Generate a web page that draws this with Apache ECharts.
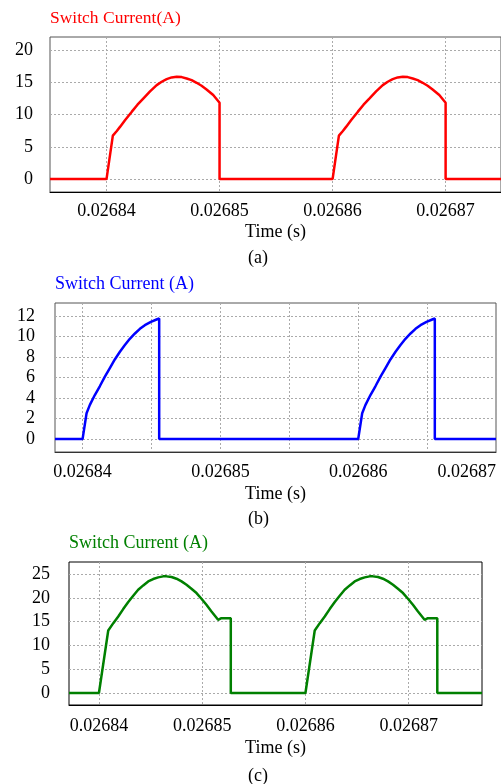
<!DOCTYPE html>
<html>
<head>
<meta charset="utf-8">
<script src="https://cdn.jsdelivr.net/npm/echarts@6/dist/echarts.min.js"></script>
<style>
  html, body { margin: 0; padding: 0; background: #fff; }
  #chart { width: 501px; height: 784px; }
</style>
</head>
<body>
<div id="chart"></div>
<script>
// (a) red waveform
const timeA = [0.0268350,
  0.0268400, 0.02684056, 0.02684091, 0.02684121, 0.02684165, 0.02684224, 0.02684274, 0.02684327,
  0.02684385, 0.02684444, 0.02684488, 0.02684532, 0.02684576, 0.02684621, 0.02684665, 0.02684709,
  0.02684753, 0.02684797, 0.02684841, 0.02684885, 0.02684944, 0.0268500, 0.0268500,
  0.0268600, 0.02686056, 0.02686091, 0.02686121, 0.02686165, 0.02686224, 0.02686274, 0.02686327,
  0.02686385, 0.02686444, 0.02686488, 0.02686532, 0.02686576, 0.02686621, 0.02686665, 0.02686709,
  0.02686753, 0.02686797, 0.02686841, 0.02686885, 0.02686944, 0.0268700, 0.0268700,
  0.0268749];
const currentA = [0,
  0, 6.73, 7.45, 8.12, 9.15, 10.44, 11.52, 12.5,
  13.58, 14.55, 15.07, 15.48, 15.74, 15.84, 15.79, 15.58,
  15.32, 14.91, 14.45, 13.88, 13.01, 11.83, 0,
  0, 6.73, 7.45, 8.12, 9.15, 10.44, 11.52, 12.5,
  13.58, 14.55, 15.07, 15.48, 15.74, 15.84, 15.79, 15.58,
  15.32, 14.91, 14.45, 13.88, 13.01, 11.83, 0,
  0];

// (b) blue waveform
const timeB = [0.0268380,
  0.0268400, 0.02684029, 0.02684053, 0.02684089, 0.02684126, 0.02684162, 0.02684198, 0.02684234,
  0.02684271, 0.02684307, 0.02684343, 0.02684380, 0.02684416, 0.02684452, 0.02684496, 0.02684537,
  0.02684556, 0.02684556,
  0.0268600, 0.02686029, 0.02686053, 0.02686089, 0.02686126, 0.02686162, 0.02686198, 0.02686234,
  0.02686271, 0.02686307, 0.02686343, 0.02686380, 0.02686416, 0.02686452, 0.02686496, 0.02686537,
  0.02686556, 0.02686556,
  0.0268700];
const currentB = [0,
  0, 2.52, 3.33, 4.29, 5.17, 6.08, 6.92, 7.76,
  8.51, 9.16, 9.77, 10.29, 10.74, 11.1, 11.42, 11.65,
  11.75, 0,
  0, 2.52, 3.33, 4.29, 5.17, 6.08, 6.92, 7.76,
  8.51, 9.16, 9.77, 10.29, 10.74, 11.1, 11.42, 11.65,
  11.75, 0,
  0];

// (c) green waveform
const timeC = [0.0268371,
  0.0268400, 0.02684090, 0.02684139, 0.02684187, 0.02684235, 0.02684284, 0.02684332, 0.02684380,
  0.02684429, 0.02684477, 0.02684525, 0.02684574, 0.02684622, 0.02684654, 0.02684703, 0.02684751,
  0.02684800, 0.02684848, 0.02684896, 0.02684945, 0.02684993, 0.02685041, 0.02685090, 0.02685154,
  0.02685186, 0.02685277, 0.02685277,
  0.0268600, 0.02686090, 0.02686139, 0.02686187, 0.02686235, 0.02686284, 0.02686332, 0.02686380,
  0.02686429, 0.02686477, 0.02686525, 0.02686574, 0.02686622, 0.02686654, 0.02686703, 0.02686751,
  0.02686800, 0.02686848, 0.02686896, 0.02686945, 0.02686993, 0.02687041, 0.02687090, 0.02687154,
  0.02687186, 0.02687277, 0.02687277,
  0.0268771];
const currentC = [0,
  0, 13.13, 14.68, 16.08, 17.63, 19.1, 20.43, 21.7,
  22.61, 23.45, 23.95, 24.3, 24.51, 24.51, 24.37, 24.02,
  23.45, 22.75, 21.91, 21.0, 19.8, 18.54, 17.13, 15.38,
  15.73, 15.73, 0,
  0, 13.13, 14.68, 16.08, 17.63, 19.1, 20.43, 21.7,
  22.61, 23.45, 23.95, 24.3, 24.51, 24.51, 24.37, 24.02,
  23.45, 22.75, 21.91, 21.0, 19.8, 18.54, 17.13, 15.38,
  15.73, 15.73, 0,
  0];

const timeTicks = [0.02684, 0.02685, 0.02686, 0.02687];
const timeTicksB = [0.02684, 0.026845, 0.02685, 0.026855, 0.02686, 0.026865, 0.02687];
const yTicksA = [0, 5, 10, 15, 20];
const yTicksB = [0, 2, 4, 6, 8, 10, 12];
const yTicksC = [0, 5, 10, 15, 20, 25];

const font = "'Liberation Serif', 'Times New Roman', serif";

function zip(xs, ys) {
  return xs.map((x, i) => [x, ys[i]]);
}

function xAxisFor(idx, min, max, ticks, margin, gap, lineColor, alignLast) {
  const ax = {
    type: "value",
    gridIndex: idx,
    min: min,
    max: max,
    name: "Time (s)",
    nameLocation: "middle",
    nameGap: gap,
    nameTextStyle: { fontFamily: font, fontSize: 18, color: "#000" },
    axisLine: { show: true, onZero: false, lineStyle: { color: lineColor, width: 1 } },
    axisTick: { show: false, customValues: ticks },
    axisLabel: {
      customValues: timeTicks,
      formatter: (v) => v.toFixed(5),
      fontFamily: font,
      fontSize: 18,
      color: "#000",
      margin: margin,
    },
    splitLine: {
      show: true,
      lineStyle: { color: "#aaa", type: [2, 2], width: 1 },
    },
  };
  if (alignLast) ax.axisLabel.alignMaxLabel = "right";
  return ax;
}

function yAxisFor(idx, min, max, ticks, margin) {
  return {
    type: "value",
    gridIndex: idx,
    min: min,
    max: max,
    axisLine: { show: false },
    axisTick: { show: false, customValues: ticks },
    axisLabel: {
      customValues: ticks,
      fontFamily: font,
      fontSize: 18,
      color: "#000",
      margin: margin,
    },
    splitLine: {
      show: true,
      lineStyle: { color: "#aaa", type: [2, 2], width: 1 },
    },
  };
}

const chart = echarts.init(document.getElementById("chart"));
chart.setOption({
  animation: false,
  backgroundColor: "#fff",
  title: [
    { text: "Switch Current(A)", left: 50, top: 9, padding: 0,
      textStyle: { fontFamily: font, fontSize: 17.5, fontWeight: "normal", color: "#ff0000" } },
    { text: "(a)", left: 248, top: 249, padding: 0,
      textStyle: { fontFamily: font, fontSize: 18, fontWeight: "normal", color: "#000" } },
    { text: "Switch Current (A)", left: 55, top: 275, padding: 0,
      textStyle: { fontFamily: font, fontSize: 18, fontWeight: "normal", color: "#0000ff" } },
    { text: "(b)", left: 248, top: 510, padding: 0,
      textStyle: { fontFamily: font, fontSize: 18, fontWeight: "normal", color: "#000" } },
    { text: "Switch Current (A)", left: 69, top: 534, padding: 0,
      textStyle: { fontFamily: font, fontSize: 18, fontWeight: "normal", color: "#008000" } },
    { text: "(c)", left: 248, top: 767, padding: 0,
      textStyle: { fontFamily: font, fontSize: 18, fontWeight: "normal", color: "#000" } },
  ],
  grid: [
    { left: 50, top: 37, width: 452, height: 155, show: true, borderColor: "#555", borderWidth: 1 },
    { left: 55, top: 303, width: 441, height: 149, show: true, borderColor: "#555", borderWidth: 1 },
    { left: 69, top: 562, width: 413, height: 143, show: true, borderColor: "#000", borderWidth: 1 },
  ],
  xAxis: [
    xAxisFor(0, 0.026835, 0.0268749, timeTicks, 10, 31, "#000", false),
    xAxisFor(1, 0.026838, 0.02687, timeTicksB, 11, 33, "#333", true),
    xAxisFor(2, 0.0268371, 0.0268771, timeTicks, 12, 34, "#000", false),
  ],
  yAxis: [
    yAxisFor(0, -2, 22, yTicksA, 17),
    yAxisFor(1, -1.26, 13.26, yTicksB, 20),
    yAxisFor(2, -2.53, 27.53, yTicksC, 19),
  ],
  series: [
    { type: "line", xAxisIndex: 0, yAxisIndex: 0, data: zip(timeA, currentA),
      showSymbol: false, lineStyle: { color: "#ff0000", width: 2.5 }, itemStyle: { color: "#ff0000" } },
    { type: "line", xAxisIndex: 1, yAxisIndex: 1, data: zip(timeB, currentB),
      showSymbol: false, lineStyle: { color: "#0000ff", width: 2.5 }, itemStyle: { color: "#0000ff" } },
    { type: "line", xAxisIndex: 2, yAxisIndex: 2, data: zip(timeC, currentC),
      showSymbol: false, lineStyle: { color: "#008000", width: 2.5 }, itemStyle: { color: "#008000" } },
  ],
});
</script>
</body>
</html>
